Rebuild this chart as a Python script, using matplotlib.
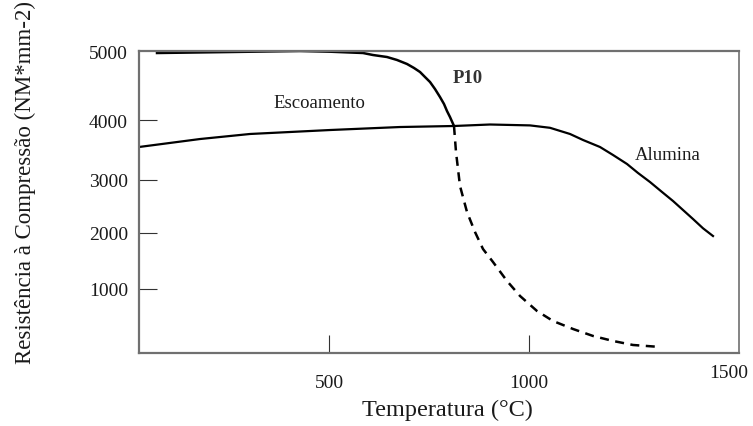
import numpy as np
import matplotlib
matplotlib.use("Agg")
import matplotlib.pyplot as plt

# values (temperature in C, strength in NM*mm-2)
p10_temp = [70, 260, 427.5, 502.5, 585, 610, 645, 670, 695, 712.5, 727.5,
            740, 752.5, 765, 777.5, 787.5, 795, 802.5, 812.5]
p10_strength = [4971, 4986, 5000, 4990, 4971, 4942, 4913, 4870, 4812, 4754,
                4696, 4623, 4551, 4449, 4333, 4232, 4130, 4043, 3900]

p10_dash_temp = [812.5, 817.5, 827.5, 845, 865, 885, 910, 945, 977.5, 1020,
                 1060, 1110, 1160, 1210, 1260, 1327.5]
p10_dash_strength = [3900, 3467, 2887, 2396, 2019, 1714, 1482, 1143, 891, 656,
                     500, 375, 266, 188, 125, 94]

alumina_temp = [25, 177.5, 302.5, 502.5, 677.5, 812.5, 902.5, 1002.5, 1052.5,
                1102.5, 1135, 1177.5, 1210, 1245, 1272.5, 1302.5, 1332.5,
                1360, 1385, 1410, 1435, 1460]
alumina_strength = [3550, 3683, 3767, 3833, 3883, 3900, 3925, 3910, 3870,
                    3767, 3667, 3550, 3417, 3267, 3117, 2962, 2774,
                    2604, 2434, 2264, 2089, 1946]

y_ticks = [1000, 2000, 3000, 4000, 5000]
x_ticks = [500, 1000]

# the original axis is hand drawn, tick spacing is not even
scale_vals = [0, 1000, 2000, 3000, 4000, 5000]
scale_pos = [0, 64, 120, 173, 233, 302]

def fwd(v):
    return np.interp(v, scale_vals, scale_pos)

def inv(h):
    return np.interp(h, scale_pos, scale_vals)

serif = "Liberation Serif"
txt = "#1a1a1a"

fig = plt.figure(figsize=(7.53, 4.27), dpi=100)
ax = fig.add_axes([0.1846, 0.1710, 0.7968, 0.7072])
ax.set_yscale("function", functions=(fwd, inv))

ax.plot(p10_temp, p10_strength, color="black", lw=1.8, solid_joinstyle="round")
ax.plot(p10_dash_temp, p10_dash_strength, color="black", lw=1.8,
        linestyle=(0, (3.6, 2.6)))
ax.plot(alumina_temp, alumina_strength, color="black", lw=1.6,
        solid_joinstyle="round")

ax.set_xlim(25, 1525)
ax.set_ylim(0, 5000)

ax.set_xticks(x_ticks)
ax.set_xticklabels([str(t) for t in x_ticks])
ax.set_yticks(y_ticks)
ax.set_yticklabels([str(t) for t in y_ticks])
ax.yaxis.set_minor_locator(matplotlib.ticker.NullLocator())
ax.xaxis.set_minor_locator(matplotlib.ticker.NullLocator())

ax.tick_params(axis="both", direction="in", length=13, width=0.8,
               color="#333333", labelcolor=txt, labelsize=14)
ax.tick_params(axis="x", pad=15)
ax.tick_params(axis="y", pad=8)
ax.yaxis.get_major_ticks()[-1].tick1line.set_visible(False)
for lab in ax.get_xticklabels() + ax.get_yticklabels():
    lab.set_family(serif)

# the 1500 label sits a bit higher and has no tick mark
ax.text(1500, -0.038, "1500", transform=ax.get_xaxis_transform(),
        ha="center", va="top", fontsize=14, family=serif, color=txt)

for side in ["left", "bottom", "top"]:
    ax.spines[side].set_color("#707070")
    ax.spines[side].set_linewidth(1.6)
ax.spines["right"].set_color("#707070")
ax.spines["right"].set_linewidth(1.2)

ax.text(475, 4188, "Escoamento", ha="center", va="baseline",
        fontsize=13.5, family=serif, color=txt)
ax.text(847.5, 4551, "P10", ha="center", va="baseline",
        fontsize=13.5, family=serif, fontweight="bold", color="#333333")
ax.text(1346, 3350, "Alumina", ha="center", va="baseline",
        fontsize=13.5, family=serif, color=txt)

fig.text(447 / 753, 1 - 410 / 427, "Temperatura (°C)", ha="center", va="center",
         fontsize=17.5, family=serif, color=txt)
fig.text(25 / 753, 1 - 183 / 427, "Resistência à Compressão (NM*mm-2)",
         ha="center", va="center", rotation=90,
         fontsize=16.5, family=serif, color=txt)

fig.savefig("out.png", dpi=100)
